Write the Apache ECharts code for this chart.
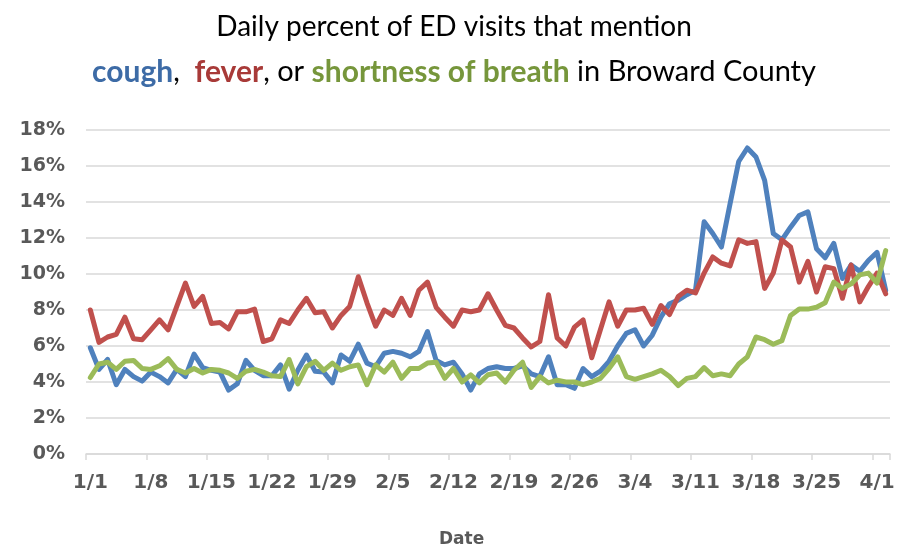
<!DOCTYPE html>
<html>
<head>
<meta charset="utf-8">
<script src="https://cdn.jsdelivr.net/npm/echarts@6/dist/echarts.min.js"></script>
<style>
html,body{margin:0;padding:0;background:#fff;}
#chart{width:908px;height:544px;}
</style>
</head>
<body>
<div id="chart"></div>
<script>
var dates = [
'1/1','1/2','1/3','1/4','1/5','1/6','1/7','1/8','1/9','1/10','1/11','1/12','1/13','1/14','1/15','1/16','1/17','1/18','1/19','1/20','1/21','1/22','1/23','1/24','1/25','1/26','1/27','1/28','1/29','1/30','1/31',
'2/1','2/2','2/3','2/4','2/5','2/6','2/7','2/8','2/9','2/10','2/11','2/12','2/13','2/14','2/15','2/16','2/17','2/18','2/19','2/20','2/21','2/22','2/23','2/24','2/25','2/26','2/27','2/28','2/29',
'3/1','3/2','3/3','3/4','3/5','3/6','3/7','3/8','3/9','3/10','3/11','3/12','3/13','3/14','3/15','3/16','3/17','3/18','3/19','3/20','3/21','3/22','3/23','3/24','3/25','3/26','3/27','3/28','3/29','3/30','3/31',
'4/1','4/2'
];

var cough = [
5.9,4.7,5.25,3.85,4.7,4.3,4.05,4.55,4.3,3.95,4.7,4.3,5.55,4.8,4.65,4.55,3.55,3.9,5.2,4.65,4.35,4.35,4.95,3.6,4.65,5.5,4.6,4.55,3.95,5.5,5.15,
6.1,5.05,4.85,5.6,5.7,5.6,5.4,5.7,6.8,5.2,4.95,5.1,4.45,3.55,4.45,4.75,4.85,4.75,4.75,4.9,4.45,4.3,5.4,3.85,3.85,3.65,4.75,4.3,4.6,
5.15,6.0,6.7,6.9,6.0,6.6,7.6,8.35,8.55,8.85,9.1,12.9,12.25,11.5,13.9,16.25,17.0,16.5,15.2,12.25,11.9,12.6,13.25,13.45,11.4,10.9,11.7,9.75,10.5,10.15,10.75,
11.2,9.1
];

var fever = [
8.0,6.2,6.5,6.65,7.6,6.4,6.35,6.9,7.45,6.9,8.2,9.5,8.2,8.75,7.25,7.3,6.95,7.9,7.9,8.05,6.25,6.4,7.45,7.25,8.0,8.65,7.85,7.9,7.0,7.7,8.2,
9.85,8.4,7.1,8.0,7.7,8.65,7.7,9.1,9.55,8.15,7.6,7.1,8.0,7.9,8.0,8.9,8.0,7.15,7.0,6.45,5.95,6.25,8.85,6.45,6.0,7.05,7.45,5.35,6.9,
8.45,7.1,8.0,8.0,8.1,7.2,8.25,7.75,8.75,9.1,8.95,10.05,10.95,10.6,10.45,11.9,11.7,11.8,9.2,10.05,11.9,11.5,9.55,10.7,9.0,10.4,10.3,8.65,10.5,8.45,9.3,
10.05,8.9
];

var breath = [
4.25,5.0,5.1,4.7,5.15,5.2,4.75,4.7,4.9,5.3,4.7,4.5,4.75,4.5,4.7,4.65,4.5,4.2,4.6,4.7,4.55,4.35,4.3,5.25,3.9,4.85,5.15,4.65,5.05,4.65,4.85,
4.95,3.85,4.95,4.55,5.1,4.2,4.75,4.75,5.05,5.1,4.2,4.75,4.0,4.4,3.95,4.4,4.5,4.0,4.65,5.1,3.7,4.3,3.95,4.1,4.0,4.0,3.85,4.0,4.2,
4.75,5.4,4.3,4.15,4.3,4.45,4.65,4.3,3.8,4.2,4.3,4.8,4.35,4.45,4.35,5.0,5.4,6.5,6.35,6.1,6.3,7.7,8.05,8.05,8.15,8.4,9.55,9.2,9.45,9.95,10.05,
9.5,11.3
];

var seriesNames = ['cough','fever','shortness of breath'];
var lineColors = ['#4F81BD','#C0504D','#9BBB59'];

var chart = echarts.init(document.getElementById('chart'), null, {renderer:'canvas'});
var yFont = {fontFamily:'DejaVu Sans', fontWeight:'bold', fontSize:19, color:'#595959'};
var xFont = {fontFamily:'DejaVu Sans', fontWeight:'bold', fontSize:20, color:'#595959'};

function mkSeries(name, data, color){
  return {
    name:name, type:'line', data:data, showSymbol:false, symbol:'none',
    lineStyle:{width:5, color:color, cap:'round', join:'round'},
    itemStyle:{color:color}, z:2
  };
}

chart.setOption({
  animation:false,
  backgroundColor:'#ffffff',
  title:[
    {text:'Daily percent of ED visits that mention', left:'center', top:6,
     textStyle:{fontFamily:'Lato', fontWeight:'normal', fontSize:28, lineHeight:32, color:'#000000'}},
    {text:'{c|cough},  {f|fever}, or {s|shortness of breath} in Broward County', left:'center', top:49,
     textStyle:{fontFamily:'Lato', fontWeight:'normal', fontSize:29, lineHeight:36, color:'#000000',
       rich:{
         c:{fontFamily:'Lato', fontWeight:'bold', fontSize:30, color:'#3D6BA6'},
         f:{fontFamily:'Lato', fontWeight:'bold', fontSize:30, color:'#A83A38'},
         s:{fontFamily:'Lato', fontWeight:'bold', fontSize:30, color:'#76963B'}
       }}},
    {text:'Date', left:434, top:526,
     textStyle:{fontFamily:'DejaVu Sans', fontWeight:'bold', fontSize:17, color:'#595959'}}
  ],
  grid:{left:86, right:18, top:130, bottom:90, containLabel:false},
  xAxis:{
    type:'category', data:dates, boundaryGap:true,
    axisLine:{show:true, lineStyle:{color:'#D9D9D9', width:1.5}},
    axisTick:{show:true, interval:6, length:6, lineStyle:{color:'#D9D9D9', width:1.5}},
    axisLabel:Object.assign({interval:6, margin:19}, xFont),
    splitLine:{show:false}
  },
  yAxis:{
    type:'value', min:0, max:18, interval:2,
    axisLine:{show:false}, axisTick:{show:false},
    axisLabel:Object.assign({margin:21, formatter:'{value}%'}, yFont),
    splitLine:{show:true, lineStyle:{color:'#D9D9D9', width:1.5}}
  },
  series:[
    mkSeries(seriesNames[0], cough, lineColors[0]),
    mkSeries(seriesNames[1], fever, lineColors[1]),
    mkSeries(seriesNames[2], breath, lineColors[2])
  ]
});
</script>
</body>
</html>
